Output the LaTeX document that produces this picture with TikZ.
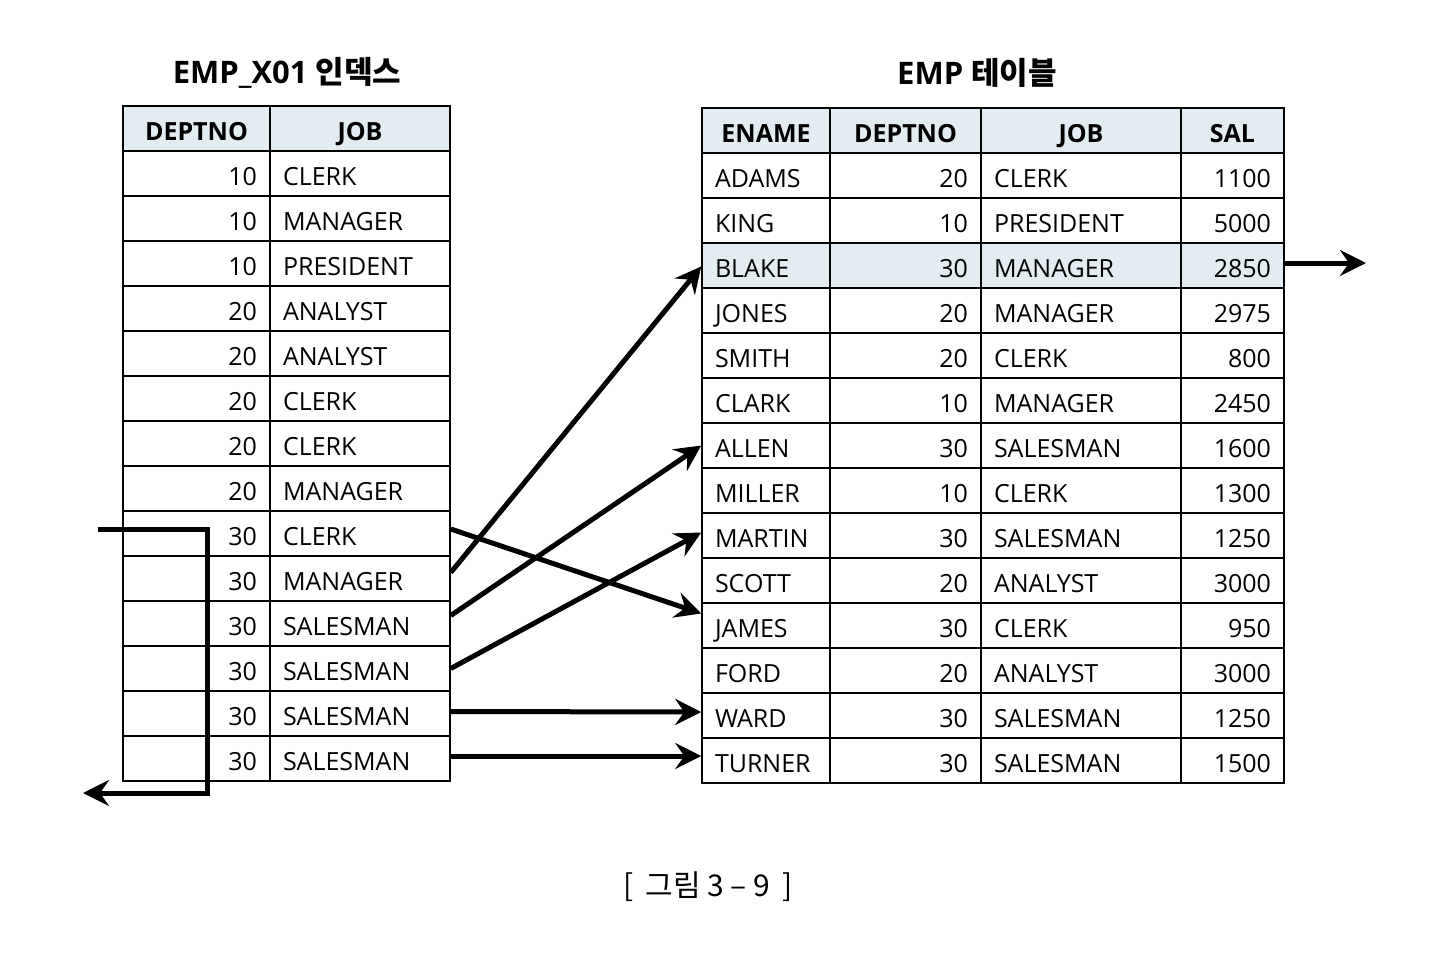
\documentclass[tikz,border=0pt]{standalone}
\usepackage{fontspec}
\setmainfont{Open Sans}
\newfontfamily\kr{Noto Sans CJK KR}
\usetikzlibrary{arrows.meta}
\definecolor{hdr}{HTML}{E3ECF0}
\begin{document}
\begin{tikzpicture}[x=1pt,y=-1pt,
  cell/.style={draw=black, line width=1.5pt, minimum height=45pt, inner xsep=13pt, inner ysep=0pt,
    text height=23.5pt, text depth=0pt, font=\fontsize{25}{25}\selectfont},
  hcell/.style={cell, fill=hdr, align=center, font=\bfseries\fontsize{25}{25}\selectfont},
  numc/.style={cell, align=right},
  txtc/.style={cell, align=left},
  arr/.style={line width=5pt, -{Stealth[length=26pt,width=26pt,inset=9pt]}},
  title/.style={font=\bfseries\fontsize{31}{31}\selectfont, inner sep=0pt}
]
\useasboundingbox (0,0) rectangle (1440,959);
\fill[white] (0,0) rectangle (1440,959);

% titles
\node[title] (t1) at (287,73) {EMP\_X01 {\kr 인덱스}};
\node[title] (t2) at (977,73) {EMP {\kr 테이블}};

% left index table
\node[hcell, text width=121pt] (lh1) at (196.5,128.5) {DEPTNO};
\node[hcell, text width=154pt] (lh2) at (360,128.5) {JOB};
\foreach \n/\j [count=\i] in {10/CLERK,10/MANAGER,10/PRESIDENT,20/ANALYST,20/ANALYST,20/CLERK,20/CLERK,20/MANAGER,30/CLERK,30/MANAGER,30/SALESMAN,30/SALESMAN,30/SALESMAN,30/SALESMAN}{
  \node[numc, text width=121pt] (ln\i) at (196.5,128.5+45*\i) {\n};
  \node[txtc, text width=154pt] (lj\i) at (360,128.5+45*\i) {\j};
}

% right EMP table
\node[hcell, text width=102pt] (rh1) at (766,130.5) {ENAME};
\node[hcell, text width=125pt] (rh2) at (905.5,130.5) {DEPTNO};
\node[hcell, text width=174pt] (rh3) at (1081,130.5) {JOB};
\node[hcell, text width=77pt] (rh4) at (1232.5,130.5) {SAL};
\foreach \a/\b/\c/\d/\f [count=\i] in {ADAMS/20/CLERK/1100/white,KING/10/PRESIDENT/5000/white,BLAKE/30/MANAGER/2850/hdr,JONES/20/MANAGER/2975/white,SMITH/20/CLERK/800/white,CLARK/10/MANAGER/2450/white,ALLEN/30/SALESMAN/1600/white,MILLER/10/CLERK/1300/white,MARTIN/30/SALESMAN/1250/white,SCOTT/20/ANALYST/3000/white,JAMES/30/CLERK/950/white,FORD/20/ANALYST/3000/white,WARD/30/SALESMAN/1250/white,TURNER/30/SALESMAN/1500/white}{
  \node[txtc, fill=\f, text width=102pt] (re\i) at (766,130.5+45*\i) {\a};
  \node[numc, fill=\f, text width=125pt] (rd\i) at (905.5,130.5+45*\i) {\b};
  \node[txtc, fill=\f, text width=174pt] (rj\i) at (1081,130.5+45*\i) {\c};
  \node[numc, fill=\f, text width=77pt] (rs\i) at (1232.5,130.5+45*\i) {\d};
}

% range-scan bracket
\coordinate (b0) at (98,529);
\coordinate (b1) at (207,529);
\coordinate (b2) at (207,793);
\coordinate (b3) at (83,793);
\draw[arr, miter limit=10] (b0) -- (b1) -- (b2) -- (b3);

% table access arrows
\draw[arr] ([yshift=4.5pt]lj9.east) -- ([yshift=12pt]re11.west);
\draw[arr] ([yshift=6pt]lj10.east) -- ([yshift=-1pt]re3.west);
\draw[arr] ([yshift=8pt]lj11.east) -- (re7.west);
\draw[arr] (lj12.east) -- ([yshift=3pt]re9.west);
\draw[arr] ([yshift=2pt]lj13.east) -- ([yshift=3.5pt]re13.west);
\draw[arr] ([yshift=2.5pt]lj14.east) -- ([yshift=4.5pt]re14.west);

% output arrow
\coordinate (out) at (1366,263);
\draw[arr] ([yshift=2.5pt]rs3.east) -- (out);

% caption
\node[font=\kr\fontsize{30}{30}\selectfont, inner sep=0pt] (cap) at (708,887) {[\, 그림 3 – 9 \,]};
\end{tikzpicture}
\end{document}
